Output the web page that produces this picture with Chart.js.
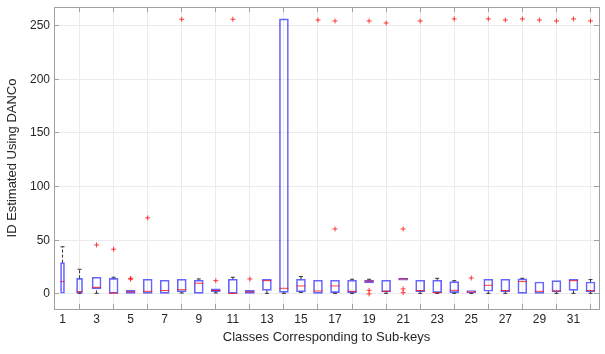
<!DOCTYPE html>
<html>
<head>
<meta charset="utf-8">
<script src="https://cdn.jsdelivr.net/npm/chart.js@4.4.0/dist/chart.umd.min.js"></script>
<style>
html, body { margin: 0; padding: 0; background: #fff; }
#wrap { width: 605px; height: 354px; }
</style>
</head>
<body>
<div id="wrap"><canvas id="myChart"></canvas></div>
<script>
// box plot values, one entry per class (1..32)
const classes = [1, 2, 3, 4, 5, 6, 7, 8, 9, 10, 11, 12, 13, 14, 15, 16,
                 17, 18, 19, 20, 21, 22, 23, 24, 25, 26, 27, 28, 29, 30, 31, 32];
const q1 = [0.7, 0.9, 4.7, 0.6, 0.6, 0.6, 0.6, 1.9, 0.6, 2.2, 0.6, 0.6, 3.4, 1.5, 1.9, 0.6,
            1.2, 1.2, 10.3, 1.9, 12.8, 2.2, 1.2, 1.2, 1.2, 2.5, 2.2, 0.6, 0.6, 1.9, 3.4, 1.9];
const medians = [11.5, 2.2, 6.2, 0.8, 2.0, 2.5, 3.2, 4.0, 10.0, 3.4, 0.6, 2.0, 12.4, 5.3, 7.5, 2.8,
                 7.5, 2.5, 12.0, 2.5, 14.0, 3.1, 1.2, 3.4, 2.0, 8.1, 3.1, 11.5, 2.5, 2.8, 12.4, 3.1];
const q3 = [29.2, 14.6, 15.6, 14.6, 3.4, 13.7, 12.8, 13.7, 12.8, 4.7, 13.7, 3.4, 13.7, 256.3, 13.7, 12.8,
            12.8, 12.8, 12.8, 12.8, 14.9, 12.8, 12.8, 11.5, 3.1, 13.7, 13.7, 14.0, 11.2, 12.4, 13.7, 11.2];
const whiskerLow = [0.7, 0.6, 0.6, 0.6, 0.6, 0.6, 0.6, 0.9, 0.6, 0.9, 0.6, 0.6, 0.6, 0.6, 1.5, 0.6,
                    0.6, 0.6, 10.3, 0.6, 12.8, 0.6, 0.6, 0.6, 0.6, 0.6, 0.6, 0.6, 0.6, 0.6, 0.6, 0.6];
const whiskerHigh = [44.0, 23.0, 15.6, 15.6, 3.4, 13.7, 12.8, 13.7, 14.0, 4.7, 15.6, 3.4, 13.7, 256.3, 16.2, 12.8,
                     12.8, 13.7, 13.7, 12.8, 14.9, 12.8, 14.6, 12.4, 3.1, 13.7, 13.7, 14.6, 11.2, 12.4, 13.7, 13.4];
const outliers = [
  [], [], [45.7], [41.7], [14.6, 13.8], [70.9], [], [256.0],
  [], [12.4], [256.0], [14.0], [], [], [], [255.3],
  [60.6, 254.4], [], [3.4, 0.0, 254.4], [252.5], [60.6, 4.7, 1.2], [254.4], [], [256.3],
  [14.9], [256.3], [255.3], [256.3], [255.3], [254.4], [256.3], [254.4]
];
const xTickValues = [1, 3, 5, 7, 9, 11, 13, 15, 17, 19, 21, 23, 25, 27, 29, 31];
const yTickValues = [0, 50, 100, 150, 200, 250];

// box width in pixels (the first two boxes are drawn narrower in the figure)
function boxPx(c) {
    if (c == 1) return 4;
    if (c == 2) return 6;
    return 9;
}

var boxGroups = {};
var medianPts = [];
var whiskerPts = [];
var capPts = [];
var outlierPts = [];

classes.forEach(function(c, i) {
    var w = boxPx(c);
    if (!boxGroups[w]) boxGroups[w] = [];
    boxGroups[w].push({x: c, y: [q1[i], q3[i]]});
    medianPts.push({x: c, y: medians[i]});
    if (whiskerHigh[i] > q3[i]) {
        whiskerPts.push({x: c, y: q3[i]}, {x: c, y: whiskerHigh[i]}, {x: c, y: null});
        capPts.push({x: c, y: whiskerHigh[i]});
    }
    if (whiskerLow[i] < q1[i]) {
        whiskerPts.push({x: c, y: whiskerLow[i]}, {x: c, y: q1[i]}, {x: c, y: null});
        capPts.push({x: c, y: whiskerLow[i]});
    }
    outliers[i].forEach(function(v) {
        outlierPts.push({x: c, y: v});
    });
});

var boxColor = 'rgba(0, 0, 255, 0.6)';
var redColor = 'rgba(255, 0, 0, 0.75)';
var gridColor = '#ebebeb';
var axisColor = '#a0a0a0';
var textColor = '#262626';

var datasets = [
    {
        type: 'scatter',
        data: outlierPts,
        pointStyle: 'cross',
        pointRadius: 2.5,
        borderColor: redColor,
        backgroundColor: redColor,
        borderWidth: 1,
        order: 0,
    },
    {
        type: 'scatter',
        data: medianPts,
        pointStyle: 'line',
        pointRadius: function(ctx) { return boxPx(ctx.raw ? ctx.raw.x : 3) / 2; },
        borderColor: redColor,
        borderWidth: 1,
        order: 1,
    },
    {
        type: 'scatter',
        data: capPts,
        pointStyle: 'line',
        pointRadius: 2,
        borderColor: '#333333',
        borderWidth: 1,
        order: 3,
    },
    {
        type: 'line',
        data: whiskerPts,
        borderColor: '#333333',
        borderWidth: 1,
        borderDash: [3, 2],
        pointRadius: 0,
        spanGaps: false,
        order: 4,
    },
];

Object.keys(boxGroups).forEach(function(w) {
    datasets.push({
        type: 'bar',
        data: boxGroups[w],
        barThickness: Number(w),
        grouped: false,
        backgroundColor: 'rgba(0,0,0,0)',
        borderColor: boxColor,
        borderWidth: 1,
        borderSkipped: false,
        order: 2,
    });
});

function setTicks(values) {
    return function(scale) {
        scale.ticks = values.map(function(v) { return {value: v}; });
    };
}

// fixed axis sizes so the plot box sits where it does in the figure
function fixSize(w, h) {
    return function(s) {
        if (w !== null) s.width = w;
        if (h !== null) s.height = h;
        s.paddingTop = 0;
        s.paddingBottom = 0;
        s.paddingLeft = 0;
        s.paddingRight = 0;
    };
}

Chart.defaults.font.family = '"Liberation Sans", Arial, sans-serif';

const ctx = document.getElementById('myChart');

var myChart = new Chart(ctx, {
    type: 'bar',
    data: { datasets: datasets },
    options: {
        animation: false,
        responsive: true,
        maintainAspectRatio: false,
        devicePixelRatio: 1,
        layout: { padding: { top: 7, right: 6, left: 0, bottom: 0 } },
        plugins: { legend: { display: false }, tooltip: { enabled: false } },
        scales: {
            x: {
                type: 'linear',
                position: 'bottom',
                min: 0.5,
                max: 32.5,
                offset: false,
                afterBuildTicks: setTicks(xTickValues),
                afterFit: fixSize(null, 45),
                grid: { color: gridColor, tickColor: axisColor, tickLength: -5 },
                border: { color: axisColor },
                ticks: { color: textColor, font: { size: 12 }, padding: 8, maxRotation: 0, autoSkip: false },
                title: {
                    display: true,
                    text: 'Classes Corresponding to Sub-keys',
                    color: textColor,
                    font: { size: 13 },
                    padding: { top: 0, bottom: 9 },
                },
            },
            x2: {
                type: 'linear',
                position: 'top',
                min: 0.5,
                max: 32.5,
                offset: false,
                afterBuildTicks: setTicks(xTickValues),
                afterFit: fixSize(null, 0),
                grid: { drawOnChartArea: false, tickColor: axisColor, tickLength: -5 },
                border: { color: axisColor },
                ticks: { display: false },
            },
            y: {
                type: 'linear',
                position: 'left',
                min: -14,
                max: 267.4,
                afterBuildTicks: setTicks(yTickValues),
                afterFit: fixSize(54, null),
                grid: { color: gridColor, tickColor: axisColor, tickLength: -5 },
                border: { color: axisColor },
                ticks: { color: textColor, font: { size: 12 }, padding: 9 },
                title: {
                    display: true,
                    text: 'ID Estimated Using DANCo',
                    color: textColor,
                    font: { size: 13 },
                    padding: { top: 5, bottom: 0 },
                },
            },
            y2: {
                type: 'linear',
                position: 'right',
                min: -14,
                max: 267.4,
                afterBuildTicks: setTicks(yTickValues),
                afterFit: fixSize(0, null),
                grid: { drawOnChartArea: false, tickColor: axisColor, tickLength: -5 },
                border: { color: axisColor },
                ticks: { display: false },
            },
        }
    }
});
</script>
</body>
</html>
